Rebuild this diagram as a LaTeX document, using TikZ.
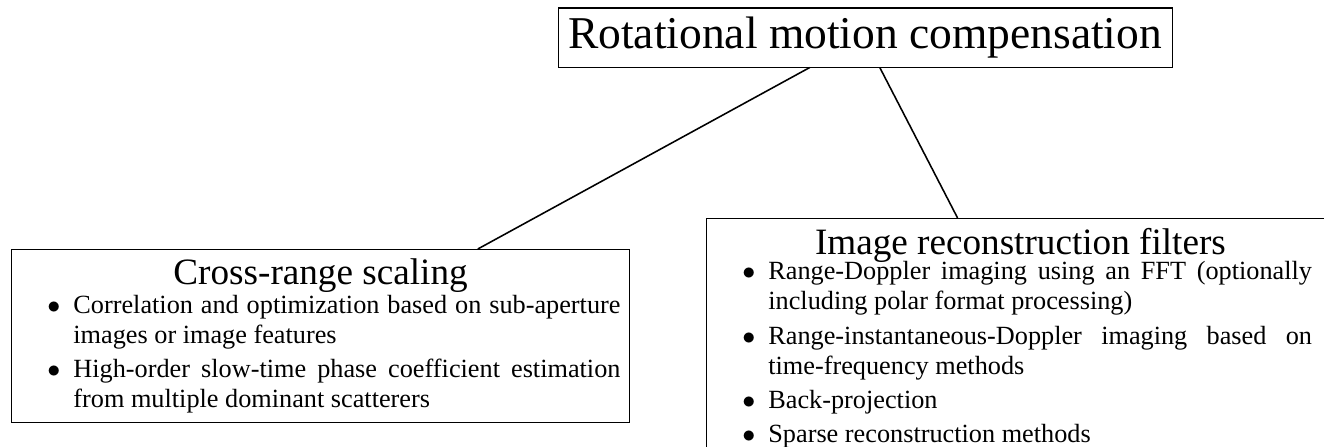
\documentclass[tikz,border=0pt]{standalone}
\usepackage{fontspec}
\setmainfont{Liberation Serif}
\usepackage{enumitem}
\usetikzlibrary{calc}

\newcommand{\titlefont}{\fontsize{17.5}{20}\selectfont}
\newcommand{\headfont}{\fontsize{14.3}{17}\selectfont}
\newcommand{\itemfont}{\fontsize{10.1}{11.5}\selectfont}
% pull the first bullet line up under the heading
\newcommand{\headgap}[1]{\par\lineskiplimit=-\maxdimen\prevdepth=\dimexpr\prevdepth+#1\relax}
\setlist[itemize]{nosep,itemsep=1.7pt,leftmargin=20.3pt,labelsep=5pt,label=$\bullet$}

\begin{document}
\begin{tikzpicture}[auto,
  box/.style={draw,line width=0.4pt,rectangle},
  listbox/.style={box,anchor=north west,inner xsep=3.5pt,inner ysep=3.7pt,align=justify,font=\itemfont},
  link/.style={line width=0.6pt}]
  \useasboundingbox (0,0) rectangle (17.897,6.042);
  \clip (0,0) rectangle (17.897,6.042);
  \node[box,minimum width=8.3cm,minimum height=0.798cm,inner sep=0pt,font=\titlefont] (rmc) at (11.693,5.535) {Rotational motion compensation};
  \node[listbox,text width=230.7pt] (crs) at (0.149,2.676) {{\centering\headfont\noindent Cross-range scaling\par}\headgap{0.5pt}
    \begin{itemize}
      \item Correlation and optimization based on sub-aperture images or image features
      \item High-order slow-time phase coefficient estimation from multiple dominant scatterers
    \end{itemize}};
  \node[listbox,text width=234.5pt] (irf) at (9.543,3.096) {{\centering\headfont\noindent Image reconstruction filters\par}\headgap{1.6pt}
    \begin{itemize}[rightmargin=5.1pt]
      \item Range-Doppler imaging using an FFT (optionally including polar format processing)
      \item Range-instantaneous-Doppler imaging based on time-frequency methods
      \item Back-projection
      \item Sparse reconstruction methods
    \end{itemize}};
  \draw[link] ($(rmc.south west)!0.41!(rmc.south east)$) -- ($(crs.north west)!0.754!(crs.north east)$);
  \draw[link] ($(rmc.south west)!0.524!(rmc.south east)$) -- ($(irf.north west)!0.4!(irf.north east)$);
\end{tikzpicture}
\end{document}
